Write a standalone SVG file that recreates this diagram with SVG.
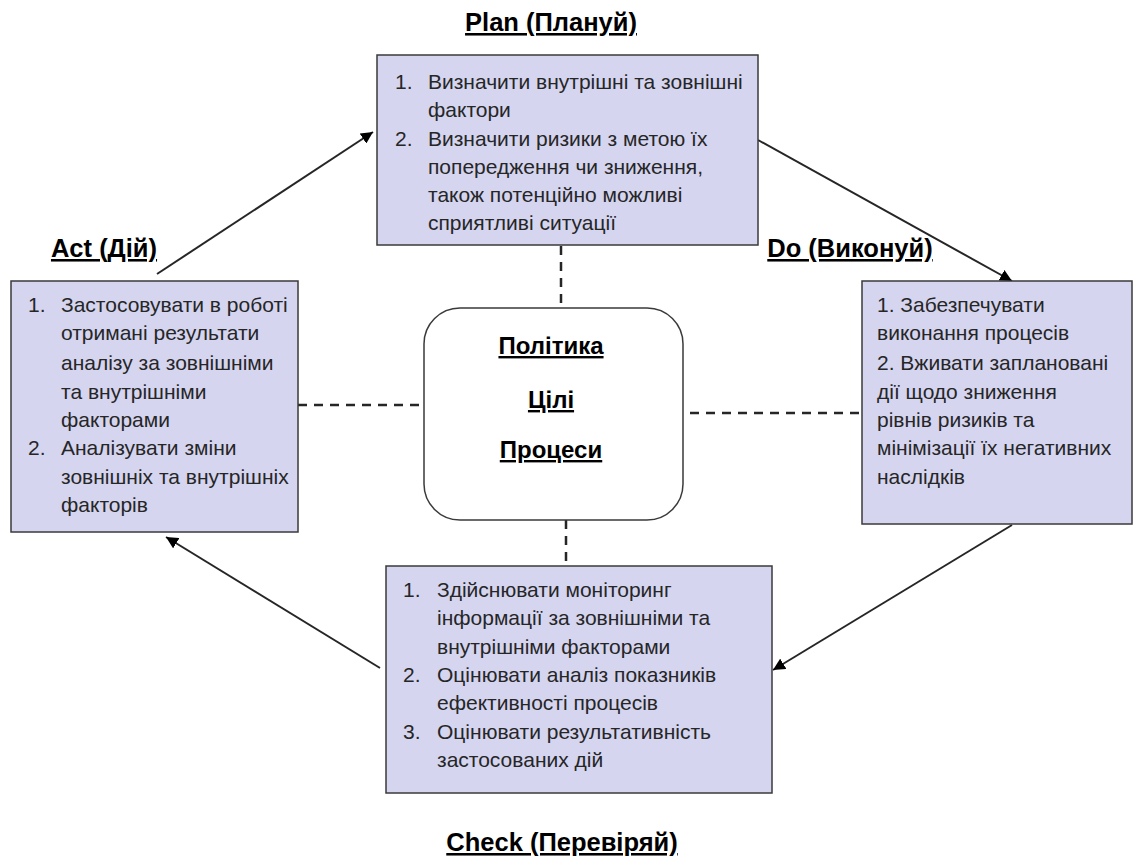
<svg xmlns="http://www.w3.org/2000/svg" width="1133" height="856" viewBox="0 0 1133 856">
  <style>
    .box { fill: #d5d5f0; stroke: #3a3a3a; stroke-width: 1.5; }
    .core { fill: #ffffff; stroke: #3a3a3a; stroke-width: 1.5; }
    .t { font-family: "Liberation Sans", Arial, sans-serif; font-size: 21px; fill: #262626; }
    .h { font-family: "Liberation Sans", Arial, sans-serif; font-size: 25.5px; font-weight: bold; fill: #000; text-decoration: underline; }
    .c { font-family: "Liberation Sans", Arial, sans-serif; font-size: 24px; font-weight: bold; fill: #000; text-decoration: underline; }
    .arrow { fill: none; stroke: #262626; stroke-width: 2; marker-end: url(#head); }
    .dash { fill: none; stroke: #262626; stroke-width: 2.5; stroke-dasharray: 9 7; }
  </style>
  <defs>
    <marker id="head" viewBox="0 0 10 10" refX="10" refY="5" markerWidth="12" markerHeight="12" markerUnits="userSpaceOnUse" orient="auto">
      <path d="M0,0 L10,5 L0,10 z" fill="#000"/>
    </marker>
  </defs>

  <!-- cycle arrows and dashed links to the core -->
  <g id="connectors">
    <line class="arrow" x1="157" y1="274" x2="373" y2="132"/>
    <line class="arrow" x1="758" y1="140" x2="1012" y2="281"/>
    <line class="arrow" x1="1012" y1="525" x2="773" y2="670"/>
    <line class="arrow" x1="380" y1="668" x2="166" y2="537"/>
    <line class="dash" x1="561" y1="246" x2="561" y2="308"/>
    <line class="dash" x1="566" y1="520" x2="566" y2="566"/>
    <line class="dash" x1="298" y1="405" x2="424" y2="405"/>
    <line class="dash" x1="690" y1="413" x2="862" y2="413"/>
  </g>

  <!-- Plan -->
  <g id="plan">
    <text class="h" x="551" y="31" text-anchor="middle">Plan (Плануй)</text>
    <rect class="box" x="377" y="55" width="381" height="190"/>
    <text class="t" x="395" y="89">1.</text>
    <text class="t" x="428" y="89">Визначити внутрішні та зовнішні</text>
    <text class="t" x="428" y="117">фактори</text>
    <text class="t" x="395" y="146">2.</text>
    <text class="t" x="428" y="146">Визначити ризики з метою їх</text>
    <text class="t" x="428" y="174">попередження чи зниження,</text>
    <text class="t" x="428" y="202">також потенційно можливі</text>
    <text class="t" x="428" y="230">сприятливі ситуації</text>
  </g>

  <!-- Do -->
  <g id="do">
    <text class="h" x="850" y="257" text-anchor="middle">Do (Виконуй)</text>
    <rect class="box" x="862" y="281" width="270" height="243"/>
    <text class="t" x="877" y="312">1. Забезпечувати</text>
    <text class="t" x="877" y="340">виконання процесів</text>
    <text class="t" x="877" y="370">2. Вживати заплановані</text>
    <text class="t" x="877" y="399">дії щодо зниження</text>
    <text class="t" x="877" y="427">рівнів ризиків та</text>
    <text class="t" x="877" y="455">мінімізації їх негативних</text>
    <text class="t" x="877" y="484">наслідків</text>
  </g>

  <!-- Check -->
  <g id="check">
    <rect class="box" x="386" y="566" width="386" height="227"/>
    <text class="t" x="403" y="597">1.</text>
    <text class="t" x="437" y="597">Здійснювати моніторинг</text>
    <text class="t" x="437" y="625">інформації за зовнішніми та</text>
    <text class="t" x="437" y="654">внутрішніми факторами</text>
    <text class="t" x="403" y="682">2.</text>
    <text class="t" x="437" y="682">Оцінювати аналіз показників</text>
    <text class="t" x="437" y="710">ефективності процесів</text>
    <text class="t" x="403" y="739">3.</text>
    <text class="t" x="437" y="739">Оцінювати результативність</text>
    <text class="t" x="437" y="767">застосованих дій</text>
    <text class="h" x="562" y="851" text-anchor="middle">Check (Перевіряй)</text>
  </g>

  <!-- Act -->
  <g id="act">
    <text class="h" x="104" y="257" text-anchor="middle">Act (Дій)</text>
    <rect class="box" x="11" y="281" width="287" height="251"/>
    <text class="t" x="28" y="312">1.</text>
    <text class="t" x="61" y="312">Застосовувати в роботі</text>
    <text class="t" x="61" y="340">отримані результати</text>
    <text class="t" x="61" y="370">аналізу за зовнішніми</text>
    <text class="t" x="61" y="399">та внутрішніми</text>
    <text class="t" x="61" y="427">факторами</text>
    <text class="t" x="28" y="455">2.</text>
    <text class="t" x="61" y="455">Аналізувати зміни</text>
    <text class="t" x="61" y="484">зовнішніх та внутрішніх</text>
    <text class="t" x="61" y="512">факторів</text>
  </g>

  <!-- Core: policy, goals, processes -->
  <g id="core">
    <rect class="core" x="424" y="308" width="259" height="212" rx="36" ry="36"/>
    <text class="c" x="551" y="354" text-anchor="middle">Політика</text>
    <text class="c" x="551" y="408" text-anchor="middle">Цілі</text>
    <text class="c" x="551" y="458" text-anchor="middle">Процеси</text>
  </g>
</svg>
